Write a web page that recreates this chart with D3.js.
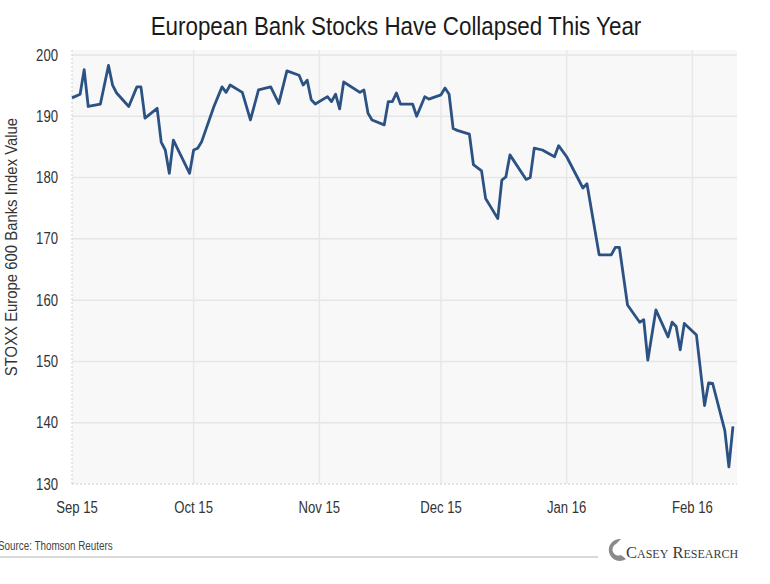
<!DOCTYPE html>
<html>
<head>
<meta charset="utf-8">
<script src="https://cdn.jsdelivr.net/npm/d3@7"></script>
<style>
  html, body { margin: 0; padding: 0; background: #fff; }
  svg { display: block; }
  text { font-family: "Liberation Sans", Arial, sans-serif; }
</style>
</head>
<body>
<div class="chart"></div>
<script>
// data (daily close, key turning points)
const dates = [
  '2015-09-01','2015-09-03','2015-09-04','2015-09-05','2015-09-08','2015-09-10','2015-09-11','2015-09-12',
  '2015-09-15','2015-09-17','2015-09-18','2015-09-19','2015-09-22','2015-09-23','2015-09-24','2015-09-25',
  '2015-09-26','2015-09-30','2015-10-01','2015-10-02','2015-10-03','2015-10-06','2015-10-08','2015-10-09',
  '2015-10-10','2015-10-13','2015-10-15','2015-10-17','2015-10-20','2015-10-22','2015-10-24','2015-10-27',
  '2015-10-28','2015-10-29','2015-10-30','2015-10-31','2015-11-03','2015-11-04','2015-11-05','2015-11-06',
  '2015-11-07','2015-11-11','2015-11-12','2015-11-13','2015-11-14','2015-11-17','2015-11-18','2015-11-19',
  '2015-11-20','2015-11-21','2015-11-24','2015-11-25','2015-11-27','2015-11-28','2015-12-01','2015-12-02',
  '2015-12-03','2015-12-04','2015-12-05','2015-12-08','2015-12-09','2015-12-11','2015-12-12','2015-12-13',
  '2015-12-15','2015-12-16','2015-12-17','2015-12-18','2015-12-22','2015-12-23','2015-12-24','2015-12-26',
  '2015-12-29','2015-12-30','2016-01-01','2016-01-05','2016-01-06','2016-01-09','2016-01-12','2016-01-13',
  '2016-01-14','2016-01-16','2016-01-19','2016-01-20','2016-01-21','2016-01-23','2016-01-26','2016-01-27',
  '2016-01-28','2016-01-29','2016-01-30','2016-02-02','2016-02-04','2016-02-05','2016-02-06','2016-02-09',
  '2016-02-10','2016-02-11'
];
const values = [
  193.0,193.6,197.6,191.6,192.0,198.3,195.1,193.8,
  191.6,194.8,194.8,189.7,191.3,185.8,184.5,180.7,
  186.1,180.7,184.5,184.8,185.9,191.6,194.8,193.9,
  195.1,193.9,189.4,194.3,194.8,192.1,197.4,196.7,
  195.1,195.9,192.7,192.0,193.2,192.4,193.6,191.2,
  195.6,193.9,194.3,190.5,189.4,188.6,192.4,192.4,
  193.8,192.0,192.0,190.0,193.2,192.8,193.5,194.6,
  193.6,188.0,187.7,187.1,182.1,181.1,176.6,175.5,
  173.3,179.6,180.1,183.7,179.7,180.0,184.8,184.5,
  183.4,185.2,183.4,178.3,179.0,167.4,167.4,168.6,
  168.6,159.2,156.4,156.8,150.2,158.4,154.0,156.4,
  155.7,151.9,156.2,154.3,142.8,146.5,146.4,138.7,
  132.8,139.4
];
const monthTicks = ['2015-09-01','2015-10-01','2015-11-01','2015-12-01','2016-01-01','2016-02-01'];
const monthLabels = ['Sep 15','Oct 15','Nov 15','Dec 15','Jan 16','Feb 16'];
const yTicks = [130, 140, 150, 160, 170, 180, 190, 200];

const title = 'European Bank Stocks Have Collapsed This Year';
const yTitle = 'STOXX Europe 600 Banks Index Value';
const source = 'Source: Thomson Reuters';

const width = 770, height = 584;
const parse = d3.timeParse('%Y-%m-%d');
const data = dates.map((d, i) => ({ date: parse(d), value: values[i] }));

const svg = d3.select('.chart').append('svg')
  .attr('width', width)
  .attr('height', height);

const x = d3.scaleTime()
  .domain([parse('2015-09-01'), parse('2016-02-12')])
  .range([72, 737]);
const y = d3.scaleLinear()
  .domain([130, 200])
  .range([484, 55]);

// plot background
svg.append('rect')
  .attr('x', 72).attr('y', 50)
  .attr('width', 665).attr('height', 434)
  .attr('fill', '#f8f8f8');

// horizontal grid
svg.append('g')
  .selectAll('line')
  .data(yTicks.slice(1))
  .enter().append('line')
  .attr('x1', 72).attr('x2', 737)
  .attr('y1', d => y(d)).attr('y2', d => y(d))
  .attr('stroke', '#e6e6e6')
  .attr('stroke-width', 1.5);

// vertical grid at month starts
svg.append('g')
  .selectAll('line')
  .data(monthTicks.slice(1))
  .enter().append('line')
  .attr('x1', d => x(parse(d))).attr('x2', d => x(parse(d)))
  .attr('y1', 50).attr('y2', 484)
  .attr('stroke', '#e8e8e8')
  .attr('stroke-width', 1.5);

// dotted left & bottom edges
svg.append('line')
  .attr('x1', 72).attr('x2', 72).attr('y1', 50).attr('y2', 484)
  .attr('stroke', '#cfcfcf').attr('stroke-dasharray', '2,2');
svg.append('line')
  .attr('x1', 72).attr('x2', 737).attr('y1', 484).attr('y2', 484)
  .attr('stroke', '#cfcfcf').attr('stroke-dasharray', '2,2');

// y tick labels
svg.append('g')
  .selectAll('text')
  .data(yTicks)
  .enter().append('text')
  .attr('class', 'narrow')
  .attr('x', 58)
  .attr('y', d => y(d))
  .attr('dy', '.35em')
  .attr('text-anchor', 'end')
  .attr('font-size', 16)
  .attr('fill', '#333')
  .text(d => d);

// x tick labels
svg.append('g')
  .selectAll('text')
  .data(monthTicks)
  .enter().append('text')
  .attr('class', 'narrow')
  .attr('x', (d, i) => i === 0 ? x(parse(d)) + 5 : x(parse(d)))
  .attr('y', 513)
  .attr('text-anchor', 'middle')
  .attr('font-size', 16)
  .attr('fill', '#333')
  .text((d, i) => monthLabels[i]);

// line
const line = d3.line()
  .x(d => x(d.date))
  .y(d => y(d.value));

svg.append('path')
  .datum(data)
  .attr('d', line)
  .attr('fill', 'none')
  .attr('stroke', '#2b5283')
  .attr('stroke-width', 2.8)
  .attr('stroke-linejoin', 'round');

// title
svg.append('text')
  .attr('class', 'narrow')
  .attr('data-squeeze', 0.86)
  .attr('x', 396).attr('y', 35)
  .attr('text-anchor', 'middle')
  .attr('font-size', 26)
  .attr('fill', '#1a1a1a')
  .text(title);

// y axis title
svg.append('text')
  .attr('class', 'narrow')
  .attr('data-squeeze', 0.875)
  .attr('transform', 'translate(17,247) rotate(-90)')
  .attr('text-anchor', 'middle')
  .attr('font-size', 17)
  .attr('fill', '#333')
  .text(yTitle);

// footer
svg.append('text')
  .attr('class', 'narrow')
  .attr('x', -2).attr('y', 550)
  .attr('font-size', 12)
  .attr('fill', '#444')
  .text(source);
svg.append('line')
  .attr('x1', 0).attr('x2', 598).attr('y1', 557).attr('y2', 557)
  .attr('stroke', '#ccc').attr('stroke-width', 1.5);

// logo
const logo = svg.append('g').attr('transform', 'translate(612,551)');
logo.append('path')
  .attr('d', 'M 9 -12 A 11 11 0 1 0 14 8 L 9 4 A 6 6 0 1 1 4 -7 Z')
  .attr('fill', '#8a8a8a');
logo.append('text')
  .attr('x', 14).attr('y', 7)
  .attr('font-size', 16.5)
  .attr('font-variant', 'small-caps')
  .attr('fill', '#3a3a3a')
  .style('font-family', '"Liberation Serif", serif')
  .text('Casey Research');

// squeeze labels to look like the narrow face of the original
svg.selectAll('text.narrow').each(function () {
  const el = d3.select(this);
  const k = +(el.attr('data-squeeze') || 0.82);
  el.attr('textLength', this.getComputedTextLength() * k)
    .attr('lengthAdjust', 'spacingAndGlyphs');
});
</script>
</body>
</html>
